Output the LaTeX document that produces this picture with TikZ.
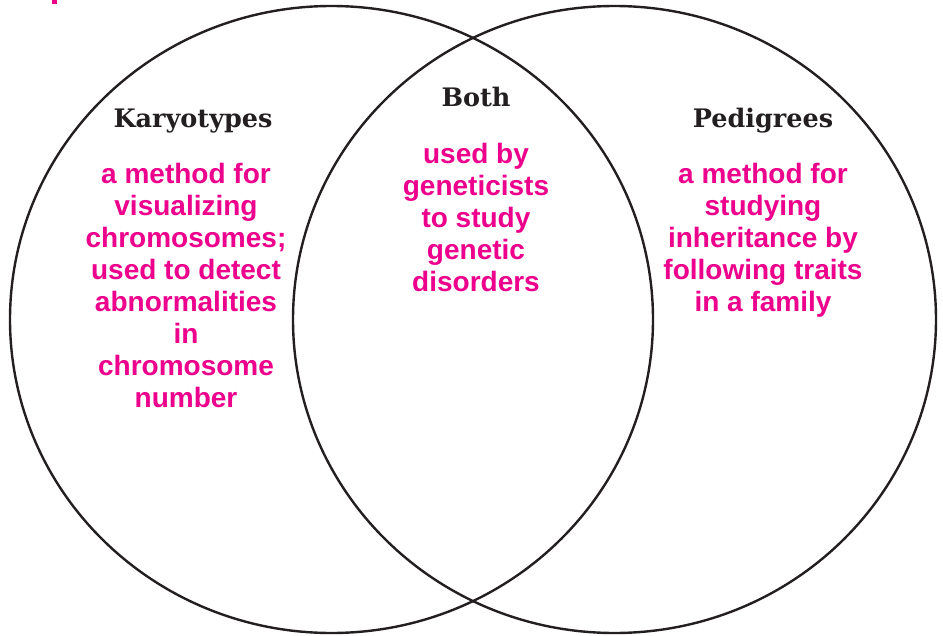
\documentclass[tikz,border=0pt]{standalone}
\usepackage{fontspec}
\usepackage{xcolor}
\usepackage{tikz}
\newfontfamily\hdrfont{DejaVu Serif}
\newfontfamily\pinkfont{Liberation Sans}
\definecolor{Inkc}{RGB}{35,31,32}
\definecolor{Magc}{RGB}{236,0,140}
\tikzset{
  ring/.style={draw=Inkc,line width=2.4pt},
  hdr/.style={font=\hdrfont\bfseries\fontsize{25.5}{28}\selectfont,text=Inkc,
              inner sep=0pt,anchor=base},
  pinktxt/.style={font=\pinkfont\bfseries\fontsize{28}{32}\selectfont,text=Magc,
                  align=center,inner sep=0pt,anchor=north},
}

\begin{document}
\begin{tikzpicture}[x=1pt,y=-1pt]
  \useasboundingbox (0,0) rectangle (943,635);
  % the two sets
  \draw[ring] (331.5,319.5) ellipse [x radius=321.5,y radius=313.5];
  \draw[ring] (614.5,319.5) ellipse [x radius=321.5,y radius=313.5];
  \fill[Magc] (52,0) rectangle (57,4);
  % headings
  \node[hdr] (kary) at (193,127) {Karyotypes};
  \node[hdr] (both) at (476,106.5) {Both};
  \node[hdr] (pedi) at (763,127) {Pedigrees};
  % contents
  \node[pinktxt] (karytxt) at (186,163.5) {a method for\\visualizing\\chromosomes;\\used to detect\\abnormalities\\in\\chromosome\\number};
  \node[pinktxt] (bothtxt) at (476,143.5) {used by\\geneticists\\to study\\genetic\\disorders};
  \node[pinktxt] (peditxt) at (763,163.5) {a method for\\studying\\inheritance by\\following traits\\in a family};
\end{tikzpicture}
\end{document}
